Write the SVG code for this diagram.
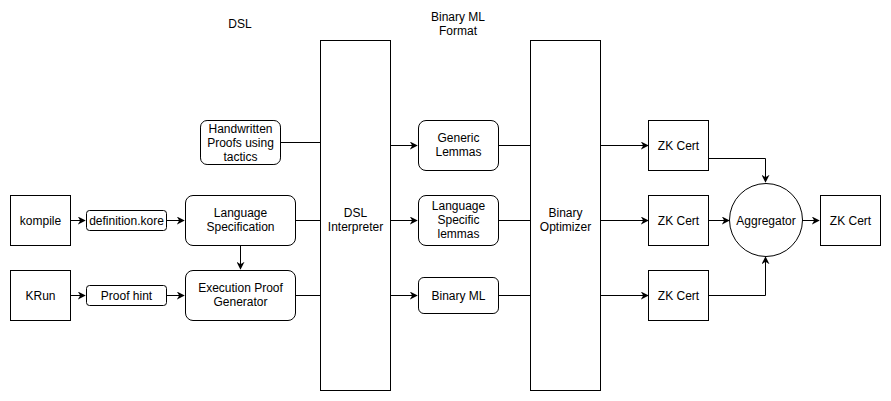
<svg xmlns="http://www.w3.org/2000/svg" width="891" height="401" viewBox="0 0 891 401">
<style>
.n{fill:#fff;stroke:#000;stroke-width:1}
.t{font-family:"Liberation Sans",Arial,sans-serif;font-size:12px;fill:#000;text-anchor:middle}
.c{fill:none;stroke:#000;stroke-width:1}
</style>
<defs>
<marker id="a" viewBox="0 0 10 10" refX="9" refY="5" markerWidth="8" markerHeight="8" markerUnits="userSpaceOnUse" orient="auto">
<path d="M0,0 L10,5 L0,10 L3,5 Z" fill="#000"/>
</marker>
</defs>
<rect width="891" height="401" fill="#fff"/>
<g id="labels">
<text class="t" x="240" y="28">DSL</text>
<text class="t" x="458" y="21">Binary ML</text>
<text class="t" x="458" y="35">Format</text>
</g>
<g id="connectors">
<path class="c" d="M70.5,220.5 H85" marker-end="url(#a)"/>
<path class="c" d="M166.5,220.5 H184" marker-end="url(#a)"/>
<path class="c" d="M70.5,295.5 H85" marker-end="url(#a)"/>
<path class="c" d="M166.5,295.5 H184" marker-end="url(#a)"/>
<path class="c" d="M240.5,245.5 V269" marker-end="url(#a)"/>
<path class="c" d="M280.5,142.5 H320.5"/>
<path class="c" d="M295.5,220.5 H320.5"/>
<path class="c" d="M295.5,295.5 H320.5"/>
<path class="c" d="M390.5,145.5 H417" marker-end="url(#a)"/>
<path class="c" d="M390.5,220.5 H417" marker-end="url(#a)"/>
<path class="c" d="M390.5,295.5 H417" marker-end="url(#a)"/>
<path class="c" d="M498.5,145.5 H530.5"/>
<path class="c" d="M498.5,220.5 H530.5"/>
<path class="c" d="M498.5,295.5 H530.5"/>
<path class="c" d="M600.5,145.5 H648" marker-end="url(#a)"/>
<path class="c" d="M600.5,220.5 H648" marker-end="url(#a)"/>
<path class="c" d="M600.5,295.5 H648" marker-end="url(#a)"/>
<path class="c" d="M708.5,158.5 H765.5 V182" marker-end="url(#a)"/>
<path class="c" d="M708.5,295.5 H765.5 V257" marker-end="url(#a)"/>
<path class="c" d="M708.5,220.5 H729" marker-end="url(#a)"/>
<path class="c" d="M802,220.5 H819" marker-end="url(#a)"/>
</g>
<g id="kompile"><rect class="n" x="10.5" y="195.5" width="60" height="50"/><text class="t" x="40.5" y="224.5">kompile</text></g>
<g id="krun"><rect class="n" x="10.5" y="270.5" width="60" height="50"/><text class="t" x="40.5" y="299.5">KRun</text></g>
<g id="defkore"><rect class="n" x="86.5" y="210.5" width="80" height="20" rx="3"/><text class="t" x="126.5" y="224.5">definition.kore</text></g>
<g id="proofhint"><rect class="n" x="86.5" y="285.5" width="80" height="20" rx="3"/><text class="t" x="126.5" y="299.5">Proof hint</text></g>
<g id="langspec"><rect class="n" x="185.5" y="195.5" width="110" height="50" rx="7.5"/><text class="t" x="240.5" y="216.5">Language</text><text class="t" x="240.5" y="230.5">Specification</text></g>
<g id="epg"><rect class="n" x="185.5" y="270.5" width="110" height="50" rx="7.5"/><text class="t" x="240.5" y="291.5">Execution Proof</text><text class="t" x="240.5" y="305.5">Generator</text></g>
<g id="handwritten"><rect class="n" x="200.5" y="120.5" width="80" height="44" rx="6.6"/><text class="t" x="240.5" y="132.5">Handwritten</text><text class="t" x="240.5" y="146.5">Proofs using</text><text class="t" x="240.5" y="160.5">tactics</text></g>
<g id="dslinterp"><rect class="n" x="320.5" y="40.5" width="70" height="350"/><text class="t" x="355.5" y="216.5">DSL</text><text class="t" x="355.5" y="230.5">Interpreter</text></g>
<g id="generic"><rect class="n" x="418.5" y="120.5" width="80" height="50" rx="7.5"/><text class="t" x="458.5" y="141.5">Generic</text><text class="t" x="458.5" y="155.5">Lemmas</text></g>
<g id="langlemmas"><rect class="n" x="418.5" y="195.5" width="80" height="50" rx="7.5"/><text class="t" x="458.5" y="209.5">Language</text><text class="t" x="458.5" y="223.5">Specific</text><text class="t" x="458.5" y="237.5">lemmas</text></g>
<g id="binaryml"><rect class="n" x="418.5" y="277.5" width="80" height="36" rx="5.4"/><text class="t" x="458.5" y="299.5">Binary ML</text></g>
<g id="binopt"><rect class="n" x="530.5" y="40.5" width="70" height="350"/><text class="t" x="565.5" y="216.5">Binary</text><text class="t" x="565.5" y="230.5">Optimizer</text></g>
<g id="zk1"><rect class="n" x="648.5" y="120.5" width="60" height="50"/><text class="t" x="678.5" y="149.5">ZK Cert</text></g>
<g id="zk2"><rect class="n" x="648.5" y="195.5" width="60" height="50"/><text class="t" x="678.5" y="224.5">ZK Cert</text></g>
<g id="zk3"><rect class="n" x="648.5" y="270.5" width="60" height="50"/><text class="t" x="678.5" y="299.5">ZK Cert</text></g>
<g id="aggregator"><circle class="n" cx="766" cy="220" r="36.5"/><text class="t" x="766" y="224.5">Aggregator</text></g>
<g id="zkout"><rect class="n" x="820.5" y="195.5" width="60" height="50"/><text class="t" x="850.5" y="224.5">ZK Cert</text></g>
</svg>
